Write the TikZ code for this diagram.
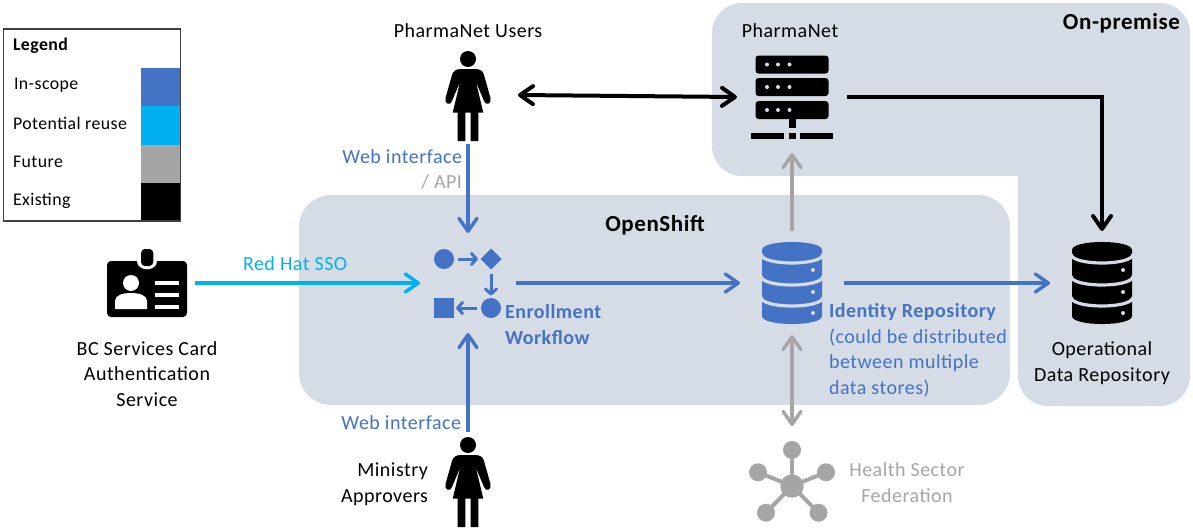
\documentclass[tikz,border=0pt]{standalone}
\usepackage{fontspec}
\setmainfont[LetterSpace=2.5]{Carlito}
\usetikzlibrary{arrows.meta}

\definecolor{zonebg}{HTML}{D6DCE5}
\definecolor{inscopec}{HTML}{4472C4}
\definecolor{reusec}{HTML}{00B0F0}
\definecolor{futurec}{HTML}{A5A5A5}

\tikzset{
  person/.pic={
    \fill (0,-36) circle (8);
    \fill (-7,-26) -- (7,-26) .. controls (12,-26) and (15,-24) .. (16,-20)
      -- (22.5,3) .. controls (24,9) and (17.5,11) .. (16,6) -- (8,-13)
      -- (15.3,17.7) -- (10.3,17.7) -- (10.3,46) -- (2.7,46) -- (2.7,17.7)
      -- (-2.7,17.7) -- (-2.7,46) -- (-10.3,46) -- (-10.3,17.7) -- (-15.3,17.7)
      -- (-8,-13) -- (-16,6) .. controls (-17.5,11) and (-24,9) .. (-22.5,3)
      -- (-16,-20) .. controls (-15,-24) and (-12,-26) .. (-7,-26) -- cycle;
  },
  dbstack/.pic={
    \fill[#1] (-30,-33) -- (-30,33) .. controls (-30,43.7) and (30,43.7) .. (30,33)
      -- (30,-33) .. controls (30,-43.7) and (-30,-43.7) .. (-30,-33) -- cycle;
    \foreach \ylane in {-29,-7,14}
      \draw[zonebg, line width=3.2] (-31,\ylane) .. controls (-31,\ylane+12) and (31,\ylane+12) .. (31,\ylane);
    \foreach \ylane in {-13,9,30}
      \fill[zonebg] (21,\ylane) circle (2);
  },
  serverrack/.pic={
    \foreach \ybar in {-32.5,-10,13} {
      \fill[rounded corners=3] (-36.5,\ybar-9) rectangle (36.5,\ybar+9);
      \foreach \xdot in {-25,-14,-2.5}
        \fill[zonebg] (\xdot,\ybar) circle (2);
    }
    \fill (-3.5,22) rectangle (3.5,31);
    \fill (-41,35.7) rectangle (-8,42.3);
    \fill (-3.5,35.7) rectangle (3.5,42.3);
    \fill (8,35.7) rectangle (41,42.3);
  },
  servicecard/.pic={
    \fill[rounded corners=4] (-40,-22) rectangle (40,34);
    \fill[white] (-10,-24) -- (-10,-22) .. controls (-10,-11) and (10,-11) .. (10,-22) -- (10,-24) -- cycle;
    \fill[rounded corners=4] (-6,-34) rectangle (6.3,-17);
    \fill[white] (-16,0) circle (8);
    \fill[white] (-32,26) -- (-32,18) .. controls (-32,12) and (-24,10) .. (-16,10)
      .. controls (-8,10) and (0,12) .. (0,18) -- (0,26) -- cycle;
    \foreach \yline in {-2,10,22}
      \fill[white] (8,\yline) rectangle (32,\yline+4);
  },
  workflow/.pic={
    \begin{scope}[inscopec]
    \fill (-24,-24) circle (10);
    \fill (23,-34.5) -- (33.5,-24) -- (23,-13.5) -- (12.5,-24) -- cycle;
    \fill (23,25) circle (10);
    \fill (-34,15.3) rectangle (-14,34.7);
    \draw[line width=3, -{Straight Barb[length=5pt,width=11pt,round]}] (-10,-24) -- (10,-24);
    \draw[line width=3, -{Straight Barb[length=5pt,width=11pt,round]}] (23,-9) -- (23,12.5);
    \draw[line width=3, -{Straight Barb[length=5pt,width=11pt,round]}] (8.5,25) -- (-12,25);
    \end{scope}
  },
  federation/.pic={
    \begin{scope}[futurec]
    \foreach \xtip/\ytip in {0/-36,-34/-13.7,34/-13.7,-26/26.7,26.5/26.7} {
      \draw[line width=4] (0,0) -- (\xtip,\ytip);
      \fill (\xtip,\ytip) circle (9);
    }
    \fill (0,0) circle (11.7);
    \end{scope}
  },
}

\begin{document}
\begin{tikzpicture}%
  [x=1pt, y=-1pt,
   >={Straight Barb[length=13pt,width=18pt,round]},
   txt/.style={font=\fontsize{20}{25.5}\selectfont, inner sep=0pt, outer sep=0pt, align=#1},
   txt/.default=center,
   legendtxt/.style={txt=left, anchor=west, font=\fontsize{17.8}{20}\selectfont},
   icon/.style 2 args={minimum width=#1, minimum height=#2, inner sep=0pt, outer sep=0pt},
   conn/.style={line width=3.4},
   inscope/.style={conn, inscopec},
   reuse/.style={conn, reusec},
   future/.style={conn, futurec},
   existing/.style={line width=4, black},
  ]
\useasboundingbox (0,0) rectangle (1193,530);

% zones
\fill[zonebg, rounded corners=32] (299,195) rectangle (1010,405);
\fill[zonebg, rounded corners=30] (1018,176) -- (712,176) -- (712,3) -- (1190,3) -- (1190,406) -- (1018,406) -- (1018,176);

% legend
\fill[inscopec] (141,68) rectangle (180,106);
\fill[reusec] (141,106) rectangle (180,145);
\fill[futurec] (141,145) rectangle (180,183);
\fill[black] (141,183) rectangle (180,221);
\node[draw=black!75, line width=1.2, icon={177}{192}] (legend) at (92,125) {};
\node[legendtxt, font=\fontsize{17.8}{20}\selectfont\bfseries] (legendtitle) at (13,45.5) {Legend};
\node[legendtxt] (legendin) at (14,85.5) {In-scope};
\node[legendtxt] (legendreuse) at (13,123) {Potential reuse};
\node[legendtxt] (legendfuture) at (13,161.5) {Future};
\node[legendtxt] (legendexisting) at (13,200.5) {Existing};

% icons
\node[icon={100}{98}] (users) at (468,95) {};
\node[icon={100}{98}] (approvers) at (468,481) {};
\node[icon={110}{112}] (server) at (792,97) {};
\node[icon={96}{100}] (flow) at (468,283) {};
\node[icon={96}{60}] (idcard) at (147,283) {};
\node[icon={104}{104}] (idrepo) at (792,283) {};
\node[icon={104}{104}] (opdata) at (1102,283) {};
\node[icon={80}{120}] (fedhub) at (792,486) {};
\pic at (users) {person};
\pic at (approvers) {person};
\pic at (server) {serverrack};
\pic at (flow) {workflow};
\pic at (idcard) {servicecard};
\pic at (idrepo) {dbstack=inscopec};
\pic at (opdata) {dbstack=black};
\pic at (fedhub) {federation};

% labels
\node[txt] (userstxt) at (468,31) {PharmaNet Users};
\node[txt] (servertxt) at (790,31) {PharmaNet};
\node[txt, anchor=east, font=\fontsize{23}{25}\selectfont\bfseries] (onpremtxt) at (1180,23) {On-premise};
\node[txt, font=\fontsize{23}{25}\selectfont\bfseries] (openshifttxt) at (655,225) {OpenShift};
\node[txt=right, anchor=east, inscopec] (webtxt) at (462,157) {Web interface};
\node[txt=right, anchor=east, futurec] (apitxt) at (462,182) {/ API};
\node[txt=right, anchor=east, inscopec] (webtxtb) at (461,423) {Web interface};
\node[txt=right, anchor=east] (approverstxt) at (428,484) {Ministry\\Approvers};
\node[txt] (idcardtxt) at (147,374) {BC Services Card\\Authentication\\Service};
\node[txt=left, anchor=west, inscopec, font=\fontsize{20}{25.5}\selectfont\bfseries] (flowtxt) at (505,324.5) {Enrollment\\Workflow};
\node[txt=left, anchor=west, inscopec] (repotxt) at (829,350.5) {\textbf{Identity Repository}\\(could be distributed\\between multiple\\data stores)};
\node[txt] (opdatatxt) at (1102,363) {Operational\\Data Repository};
\node[txt, futurec] (fedtxt) at (907,482.5) {Health Sector\\Federation};

\path[->]
%   FROM       STYLE       LABEL       TO
   (users.east) edge[existing, <->] (server.west)
   (server.east) edge[existing, to path={-| (\tikztotarget)}] (opdata.north)
   (users.south) edge[inscope] (flow.north)
   (approvers.north) edge[inscope] (flow.south)
   (idcard.east) edge[reuse] node[txt, reusec, above=12pt, pos=.445] (ssotxt) {Red Hat SSO} (flow.west)
   (flow.east) edge[inscope] (idrepo.west)
   (idrepo.east) edge[inscope] (opdata.west)
   (idrepo.north) edge[future] (server.south)
   (idrepo.south) edge[future, <->] (fedhub.north)
   ;
\end{tikzpicture}
\end{document}
